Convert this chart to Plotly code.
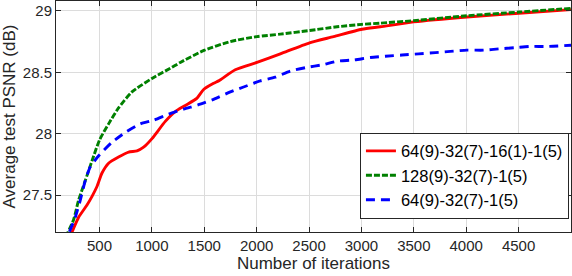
import plotly.graph_objects as go

# Iterations and average test PSNR (dB)
red_x = [200, 238, 301, 381, 429, 476, 524, 587, 682, 778, 858, 921, 1001, 1128, 1223, 1319,
         1431, 1494, 1589, 1637, 1796, 2003, 2226, 2505, 2734, 3005, 3180, 3498, 4007, 4503, 5000]
red_y = [27.13, 27.20, 27.32, 27.42, 27.49, 27.57, 27.68, 27.76, 27.81, 27.85, 27.86, 27.89, 27.96,
         28.10, 28.18, 28.23, 28.29, 28.36, 28.41, 28.43, 28.52, 28.58, 28.65, 28.74, 28.79, 28.85,
         28.87, 28.91, 28.95, 28.98, 29.01]

green_x = [150, 200, 253, 301, 365, 429, 501, 587, 682, 810, 1001, 1192, 1271, 1503,
           1749, 2003, 2226, 2505, 2767, 3005, 3180, 3498, 4007, 4503, 5000]
green_y = [27.10, 27.20, 27.30, 27.46, 27.62, 27.78, 27.95, 28.08, 28.21, 28.34, 28.45, 28.54,
           28.58, 28.68, 28.75, 28.79, 28.81, 28.84, 28.87, 28.89, 28.90, 28.92, 28.96, 28.99,
           29.02]

blue_x = [160, 212, 269, 317, 365, 412, 492, 619, 746, 890, 1017, 1160, 1303, 1462, 1589, 1749,
          1875, 2035, 2178, 2321, 2480, 2624, 2767, 2925, 3085, 3228, 3387, 3546, 3705, 3848, 4007,
          4166, 4309, 4468, 4611, 4770, 5000]
blue_y = [27.09, 27.20, 27.32, 27.46, 27.62, 27.73, 27.82, 27.93, 28.01, 28.08, 28.11, 28.16, 28.20,
          28.24, 28.28, 28.34, 28.38, 28.43, 28.46, 28.51, 28.54, 28.56, 28.59, 28.60, 28.62, 28.63,
          28.64, 28.65, 28.66, 28.67, 28.68, 28.68, 28.69, 28.70, 28.71, 28.71, 28.72]

names = ["64(9)-32(7)-16(1)-1(5)", "128(9)-32(7)-1(5)", "64(9)-32(7)-1(5)"]
x_ticks = [500, 1000, 1500, 2000, 2500, 3000, 3500, 4000, 4500]
y_ticks = [27.5, 28, 28.5, 29]
y_tick_labels = ["27.5", "28", "28.5", "29"]

FONT = "Liberation Sans, Arial, sans-serif"
TXT = "#262626"

fig = go.Figure()
fig.add_trace(go.Scatter(x=red_x, y=red_y, mode="lines", name=names[0],
                         line=dict(color="#ff0000", width=2.9, shape="spline", smoothing=0.6)))
fig.add_trace(go.Scatter(x=green_x, y=green_y, mode="lines", name=names[1],
                         line=dict(color="#008000", width=2.9, dash="6px,2px", shape="spline", smoothing=0.6)))
fig.add_trace(go.Scatter(x=blue_x, y=blue_y, mode="lines", name=names[2],
                         line=dict(color="#0000ff", width=2.9, dash="9px,6px", shape="spline", smoothing=0.6)))

axis_common = dict(
    showline=True, linecolor=TXT, linewidth=1, mirror="ticks",
    ticks="inside", ticklen=5, tickcolor=TXT, tickwidth=1,
    showgrid=True, gridcolor="#dcdcdc", gridwidth=1, zeroline=False,
    tickfont=dict(family=FONT, size=15, color=TXT), automargin=False,
)

fig.update_xaxes(range=[85, 5000], tickvals=x_ticks, ticktext=[str(v) for v in x_ticks],
                 title=dict(text="Number of iterations", font=dict(family=FONT, size=17, color=TXT), standoff=2),
                 **axis_common)
fig.update_yaxes(range=[27.2, 29.08], tickvals=y_ticks, ticktext=y_tick_labels,
                 title=dict(text="Average test PSNR (dB)", font=dict(family=FONT, size=17, color=TXT), standoff=4),
                 **axis_common)

fig.update_layout(
    width=572, height=276,
    margin=dict(l=56, r=1, t=1, b=44),
    paper_bgcolor="white", plot_bgcolor="white",
    font=dict(family=FONT, color=TXT),
    legend=dict(x=0.996, y=0.058, xanchor="right", yanchor="bottom",
                bgcolor="white", bordercolor=TXT, borderwidth=1,
                font=dict(family=FONT, size=16.5, color="black"),
                itemwidth=30, tracegroupgap=0),
    showlegend=True,
)

fig.write_html("out.html", config={"displayModeBar": False},
               post_script="document.body.style.margin='0';")
